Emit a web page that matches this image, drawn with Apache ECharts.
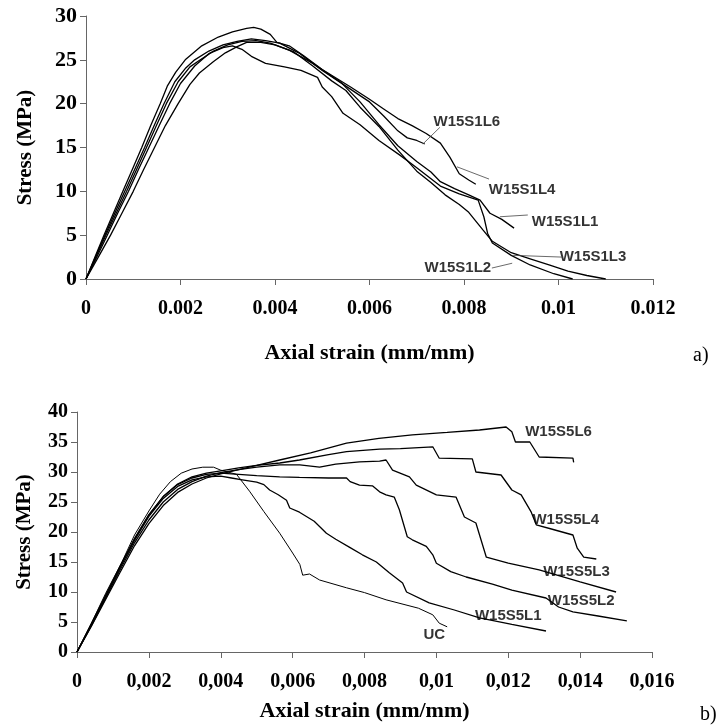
<!DOCTYPE html>
<html>
<head>
<meta charset="utf-8">
<script src="https://cdn.jsdelivr.net/npm/echarts@6/dist/echarts.min.js"></script>
<style>
  html, body { margin: 0; padding: 0; background: #fff; }
  #chart { width: 717px; height: 727px; }
</style>
</head>
<body>
<div id="chart"></div>
<script>
// (a) W15S1 specimens: [axial strain, stress MPa]
const s1L4 = [[0,0],[0.00019,2.5],[0.00038,5],[0.00058,7.5],[0.00078,10],[0.00098,12.5],[0.00118,15],[0.00137,17.5],[0.00157,20],[0.00172,22],[0.0019,23.6],[0.0021,25],[0.00245,26.6],[0.0028,27.6],[0.0031,28.2],[0.0034,28.6],[0.00355,28.7],[0.0037,28.5],[0.0039,27.9],[0.00404,27.0],[0.0043,26.6],[0.0046,25.5],[0.005,23.9],[0.0053,22.9],[0.0056,21.9],[0.006,20.5],[0.0063,19.4],[0.0066,18.3],[0.0069,17.5],[0.0072,16.6],[0.0075,15.5],[0.0077,13.9],[0.0079,12.0],[0.0081,11.3],[0.00825,10.8]];
const s1L6 = [[0,0],[0.0002,2.5],[0.0004,5],[0.0006,7.4],[0.00082,10],[0.00103,12.5],[0.00124,15],[0.00145,17.6],[0.00165,20],[0.00188,22.5],[0.0021,24.0],[0.0023,25],[0.0026,26.0],[0.0029,26.7],[0.0032,27.1],[0.0035,27.4],[0.0038,27.2],[0.0041,26.9],[0.0045,25.8],[0.005,23.8],[0.0055,22.0],[0.006,20.2],[0.0063,18.6],[0.0066,16.9],[0.0068,16.1],[0.007,15.8],[0.00717,15.4]];
const s1L1 = [[0,0],[0.00021,2.5],[0.00042,5],[0.00064,7.5],[0.00086,10],[0.00107,12.5],[0.00128,15],[0.00149,17.5],[0.0017,20],[0.00195,22.5],[0.0022,24.2],[0.00242,25],[0.0027,26.0],[0.003,26.7],[0.0033,27.1],[0.0036,27.2],[0.0039,26.9],[0.0043,26.1],[0.0048,24.6],[0.0051,23.5],[0.0054,22.4],[0.0058,20.2],[0.0062,17.6],[0.0066,15.2],[0.007,13.4],[0.0073,12.2],[0.0075,11.1],[0.0078,10.3],[0.0081,9.6],[0.00834,9.0],[0.00855,7.5],[0.0088,6.8],[0.00906,5.8]];
const s1L3 = [[0,0],[0.00026,2.5],[0.00052,5],[0.00076,7.5],[0.001,10],[0.00122,12.5],[0.00145,15],[0.00168,17.5],[0.00195,20],[0.0022,22.2],[0.0024,23.5],[0.0027,24.8],[0.00295,25.8],[0.0032,26.5],[0.0034,27.0],[0.0037,27.0],[0.004,26.7],[0.0044,25.9],[0.0048,24.3],[0.0052,22.6],[0.0055,21.5],[0.0058,19.6],[0.0062,17.4],[0.0066,14.7],[0.007,12.3],[0.0073,11.0],[0.0076,9.6],[0.0079,8.5],[0.0081,7.6],[0.0084,5.6],[0.0086,4.3],[0.009,3.0],[0.0094,2.3],[0.0098,1.6],[0.0102,0.9],[0.0106,0.4],[0.011,0]];
const s1L2 = [[0,0],[0.00023,2.5],[0.00045,5],[0.00067,7.5],[0.0009,10],[0.00111,12.5],[0.00133,15],[0.00155,17.5],[0.00177,20],[0.002,22.3],[0.0023,24.3],[0.0026,25.7],[0.0029,26.4],[0.0031,26.6],[0.0033,26.2],[0.0035,25.4],[0.0038,24.6],[0.0042,24.2],[0.00455,23.8],[0.0049,23.0],[0.005,21.9],[0.0052,20.8],[0.00544,18.9],[0.0058,17.6],[0.0062,15.8],[0.00665,14.1],[0.007,12.7],[0.0075,10.6],[0.0079,9.7],[0.0083,9.0],[0.00842,7.1],[0.0085,5.2],[0.0086,4.1],[0.009,2.7],[0.0094,1.6],[0.0099,0.6],[0.0103,0]];

// (b) W15S5 specimens + unconfined
const s5UC = [[0,0],[0.0004,4.8],[0.0008,9.8],[0.00125,15],[0.0016,19.5],[0.002,23.5],[0.0023,26.3],[0.0026,28.4],[0.0029,29.8],[0.0032,30.5],[0.0035,30.8],[0.0038,30.8],[0.004,30.3],[0.0042,30.0],[0.00444,29.6],[0.0048,26.8],[0.0052,23.4],[0.00564,19.8],[0.006,16.5],[0.0062,14.6],[0.00628,12.8],[0.00647,13.0],[0.00675,12.0],[0.0075,10.7],[0.008,9.9],[0.0086,8.7],[0.0095,7.3],[0.0099,6.2],[0.01008,4.8],[0.0103,4.2]];
const s5L1 = [[0,0],[0.0004,4.5],[0.0008,9.3],[0.0012,14.1],[0.0016,18.6],[0.002,22.6],[0.0024,25.6],[0.0028,27.6],[0.0032,28.7],[0.0036,29.2],[0.004,29.3],[0.0043,29.0],[0.0046,28.7],[0.005,28.3],[0.0052,27.9],[0.00536,27.0],[0.0056,26.2],[0.00583,25.3],[0.00592,24.0],[0.00619,23.3],[0.0066,21.8],[0.00694,19.8],[0.0072,18.8],[0.0076,17.4],[0.00794,16.2],[0.00833,15.0],[0.00869,13.2],[0.00906,11.5],[0.00917,10.0],[0.0098,8.2],[0.0105,7.0],[0.0112,5.7],[0.0121,4.6],[0.01305,3.5]];
const s5L2 = [[0,0],[0.0004,4.7],[0.0008,9.5],[0.0012,14.3],[0.0016,18.9],[0.002,22.9],[0.0024,25.9],[0.0028,27.9],[0.0032,29.0],[0.0036,29.6],[0.004,29.8],[0.0045,29.6],[0.005,29.4],[0.00564,29.2],[0.00619,29.1],[0.007,29.0],[0.0075,29.0],[0.0076,28.4],[0.00786,27.8],[0.00822,27.7],[0.00842,26.7],[0.0086,26.2],[0.00883,25.8],[0.00897,23.7],[0.00919,19.2],[0.00933,18.7],[0.00972,17.6],[0.0099,16.2],[0.01,14.8],[0.0104,13.4],[0.01083,12.5],[0.01156,11.3],[0.0121,10.3],[0.01305,9.0],[0.0134,7.5],[0.0138,6.7],[0.0145,6.0],[0.0153,5.2]];
const s5L3 = [[0,0],[0.0004,4.4],[0.0008,9.0],[0.0012,13.7],[0.0016,18.2],[0.002,22.0],[0.0024,25.0],[0.0028,27.1],[0.0032,28.4],[0.0036,29.3],[0.004,29.9],[0.0045,30.4],[0.005,30.8],[0.00564,31.2],[0.0062,31.2],[0.00675,30.8],[0.0072,31.3],[0.00786,31.7],[0.00842,31.8],[0.0086,32.0],[0.00878,30.3],[0.00925,29.2],[0.00944,27.8],[0.01,26.2],[0.01055,25.8],[0.01078,22.5],[0.0111,21.5],[0.01139,15.8],[0.012,14.8],[0.01286,13.7],[0.014,11.7],[0.015,10.0]];
const s5L4 = [[0,0],[0.0004,4.6],[0.0008,9.4],[0.0012,14.2],[0.0016,18.8],[0.002,22.8],[0.0024,25.9],[0.0028,28.0],[0.0032,29.2],[0.0036,29.8],[0.004,30.2],[0.0045,30.7],[0.005,31.1],[0.00564,31.5],[0.00619,32.0],[0.007,32.9],[0.0075,33.4],[0.00842,33.8],[0.009,33.9],[0.0099,34.2],[0.01008,32.3],[0.011,32.2],[0.0111,30.0],[0.0118,29.5],[0.0121,27.0],[0.01236,26.2],[0.01264,23.3],[0.01278,21.2],[0.0132,20.5],[0.0138,19.5],[0.01392,17.3],[0.0141,15.8],[0.01445,15.5]];
const s5L6 = [[0,0],[0.0004,4.3],[0.0008,8.8],[0.0012,13.3],[0.0016,17.7],[0.002,21.4],[0.0024,24.4],[0.0028,26.6],[0.0032,28.0],[0.0036,29.0],[0.004,29.7],[0.0045,30.4],[0.005,31.1],[0.00564,32.0],[0.0065,33.2],[0.0075,34.8],[0.0084,35.6],[0.00933,36.2],[0.0103,36.6],[0.0112,37.0],[0.01194,37.5],[0.0121,36.7],[0.0122,35.0],[0.0126,35.0],[0.01286,32.5],[0.0138,32.3],[0.01382,31.6]];

// curve labels and leader lines
const labelsTop = [
    { name: 'W15S1L6', value: [0.00806, 17.9] },
    { name: 'W15S1L4', value: [0.00923, 10.2] },
    { name: 'W15S1L1', value: [0.01014, 6.5] },
    { name: 'W15S1L3', value: [0.01073, 2.5] },
    { name: 'W15S1L2', value: [0.00787, 1.25] }
];
const leadersTop = [
    [[0.00749, 17.3], [0.00713, 15.4]],
    [[0.00853, 11.4], [0.00785, 12.8]],
    [[0.00935, 7.3], [0.00876, 7.1]],
    [[0.01007, 2.5], [0.00904, 2.7]],
    [[0.00859, 1.25], [0.00902, 1.8]]
];
const labelsBottom = [
    { name: 'W15S5L6', value: [0.0134, 36.7] },
    { name: 'W15S5L4', value: [0.0136, 22.0] },
    { name: 'W15S5L3', value: [0.0139, 13.3] },
    { name: 'W15S5L2', value: [0.01403, 8.5] },
    { name: 'W15S5L1', value: [0.0120, 6.0] },
    { name: 'UC', value: [0.00994, 2.8] }
];

const serif = 'Liberation Serif';
const sans = 'Liberation Sans';

function strainLabel(sep) {
    return function (v) {
        if (v === 0) return '0';
        return String(parseFloat(v.toFixed(4))).replace('.', sep);
    };
}

function xAxisOf(idx, max, sep, gap) {
    return {
        type: 'value', gridIndex: idx, min: 0, max: max, interval: 0.002,
        name: 'Axial strain (mm/mm)', nameLocation: 'middle', nameGap: gap,
        nameTextStyle: { fontFamily: serif, fontWeight: 'bold', fontSize: 22, color: '#000' },
        axisLine: { show: true, onZero: false, lineStyle: { color: '#666', width: 1 } },
        axisTick: { show: true, length: 6, lineStyle: { color: '#666' } },
        splitLine: { show: false },
        axisLabel: { fontFamily: serif, fontWeight: 'bold', fontSize: 20, color: '#000', margin: 20, formatter: strainLabel(sep) }
    };
}

function yAxisOf(idx, max, gap, fs) {
    return {
        type: 'value', gridIndex: idx, min: 0, max: max, interval: 5,
        name: 'Stress (MPa)', nameLocation: 'middle', nameGap: gap,
        nameTextStyle: { fontFamily: serif, fontWeight: 'bold', fontSize: 21, color: '#000' },
        axisLine: { show: true, lineStyle: { color: '#666', width: 1 } },
        axisTick: { show: true, length: 6, lineStyle: { color: '#666' } },
        splitLine: { show: false },
        axisLabel: { fontFamily: serif, fontWeight: 'bold', fontSize: fs, color: '#000', margin: 9 }
    };
}

function curve(data, idx, w) {
    return {
        type: 'line', data: data, xAxisIndex: idx, yAxisIndex: idx,
        showSymbol: false, silent: true,
        lineStyle: { color: '#000', width: w || 1.3 }
    };
}

function leader(pts, idx) {
    return {
        type: 'line', data: pts, xAxisIndex: idx, yAxisIndex: idx,
        showSymbol: false, silent: true,
        lineStyle: { color: '#444', width: 0.8 }
    };
}

function labels(data, idx) {
    return {
        type: 'scatter', data: data, xAxisIndex: idx, yAxisIndex: idx,
        symbolSize: 1, itemStyle: { color: 'rgba(0,0,0,0)' }, silent: true,
        label: {
            show: true, position: 'inside', formatter: '{b}',
            fontFamily: sans, fontWeight: 'bold', fontSize: 15, color: '#000'
        }
    };
}

const chart = echarts.init(document.getElementById('chart'));

const series = [
    curve(s1L4, 0), curve(s1L6, 0), curve(s1L1, 0), curve(s1L3, 0), curve(s1L2, 0),
    curve(s5UC, 1, 1), curve(s5L1, 1), curve(s5L2, 1), curve(s5L3, 1), curve(s5L4, 1), curve(s5L6, 1),
    labels(labelsTop, 0), labels(labelsBottom, 1)
];
leadersTop.forEach(function (p) { series.push(leader(p, 0)); });

chart.setOption({
    animation: false,
    grid: [
        { left: 86, top: 16, width: 567, height: 263 },
        { left: 77, top: 412, width: 575, height: 240 }
    ],
    xAxis: [xAxisOf(0, 0.012, '.', 63), xAxisOf(1, 0.016, ',', 48)],
    yAxis: [yAxisOf(0, 30, 50, 22), yAxisOf(1, 40, 42, 20)],
    graphic: [
        { type: 'text', left: 693, top: 346, style: { text: 'a)', font: '20px "Liberation Serif"', fill: '#000' } },
        { type: 'text', left: 700, top: 705, style: { text: 'b)', font: '20px "Liberation Serif"', fill: '#000' } }
    ],
    series: series
});
</script>
</body>
</html>
